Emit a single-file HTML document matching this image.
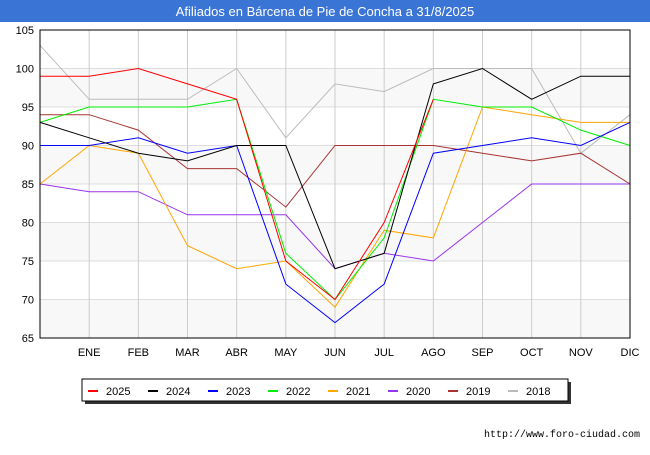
<!DOCTYPE html>
<html><head><meta charset="utf-8"><style>
body{margin:0;width:650px;height:450px;background:#fff;font-family:"Liberation Sans",sans-serif;overflow:hidden}
</style></head><body>
<svg width="650" height="450" id="svg" font-family="Liberation Sans, sans-serif">
<rect x="0" y="0" width="650" height="22" fill="#3a75d6"/>
<text x="325" y="16" text-anchor="middle" fill="#fff" font-size="13">Afiliados en Bárcena de Pie de Concha a 31/8/2025</text>
<g id="grid"></g><g id="lines"></g>
<rect x="40" y="30" width="590" height="308" fill="none" stroke="#000"/>
<text x="640" y="437" text-anchor="end" font-size="10" font-family="Liberation Mono, monospace">http://www.foro-ciudad.com</text>
<g id="legend"></g>
</svg>
<script>
const months=["","ENE","FEB","MAR","ABR","MAY","JUN","JUL","AGO","SEP","OCT","NOV","DIC"];
const yTicks=[65,70,75,80,85,90,95,100,105];
const seriesNames=["2025","2024","2023","2022","2021","2020","2019","2018"];
const colors=["#ff0000","#000000","#0000ff","#00ee00","#ffa500","#9933ee","#aa3333","#bbbbbb"];
const s2025=[99,99,100,98,96,75,70,80,96];
const s2024=[93,91,89,88,90,90,74,76,98,100,96,99,99];
const s2023=[90,90,91,89,90,72,67,72,89,90,91,90,93];
const s2022=[93,95,95,95,96,76,70,78,96,95,95,92,90];
const s2021=[85,90,89,77,74,75,69,79,78,95,94,93,93];
const s2020=[85,84,84,81,81,81,74,76,75,80,85,85,85];
const s2019=[94,94,92,87,87,82,90,90,90,89,88,89,85];
const s2018=[103,96,96,96,100,91,98,97,100,100,100,89,94];
const allSeries=[s2025,s2024,s2023,s2022,s2021,s2020,s2019,s2018];
const NS="http://www.w3.org/2000/svg";
const X=i=>40+i*(590/12), Y=v=>338-(v-65)*308/40;
function mk(t,a,p){const e=document.createElementNS(NS,t);for(const k in a)e.setAttribute(k,a[k]);p.appendChild(e);return e;}
const g=document.getElementById('grid');
for(let i=0;i<yTicks.length-1;i++){if(i%2==0){const r=mk('rect',{x:40,y:Y(yTicks[i+1]),width:590,height:Y(yTicks[i])-Y(yTicks[i+1]),fill:'#f8f8f8'},g);

}}
yTicks.forEach(v=>{const l=mk('line',{x1:40,x2:630,y1:Y(v),y2:Y(v),stroke:'#dddddd'},g);


const t=mk('text',{x:34,y:Y(v)+4,'text-anchor':'end','font-size':11},g);t.textContent=v;

});
months.forEach((m,i)=>{if(i==0)return;const l=mk('line',{x1:X(i),x2:X(i),y1:30,y2:338,stroke:'#cccccc'},g);


const t=mk('text',{x:X(i),y:356,'text-anchor':'middle','font-size':11},g);t.textContent=m;

});
const L=document.getElementById('lines');
for(let k=allSeries.length-1;k>=0;k--){const p=mk('polyline',{points:allSeries[k].map((v,i)=>X(i)+','+Y(v)).join(' '),fill:'none',stroke:colors[k],'stroke-width':1},L);

}
const lg=document.getElementById('legend');
const sh=mk('rect',{x:85,y:382,width:486,height:22,fill:'#333'},lg);


const bx=mk('rect',{x:82,y:379,width:486,height:22,fill:'#fff',stroke:'#000'},lg);


seriesNames.forEach((n,k)=>{const x0=88+k*60;
const l=mk('line',{x1:x0,x2:x0+10,y1:391,y2:391,stroke:colors[k],'stroke-width':2},lg);


const t=mk('text',{x:x0+18,y:395,'font-size':11},lg);t.textContent=n;

});
</script>
</body></html>
